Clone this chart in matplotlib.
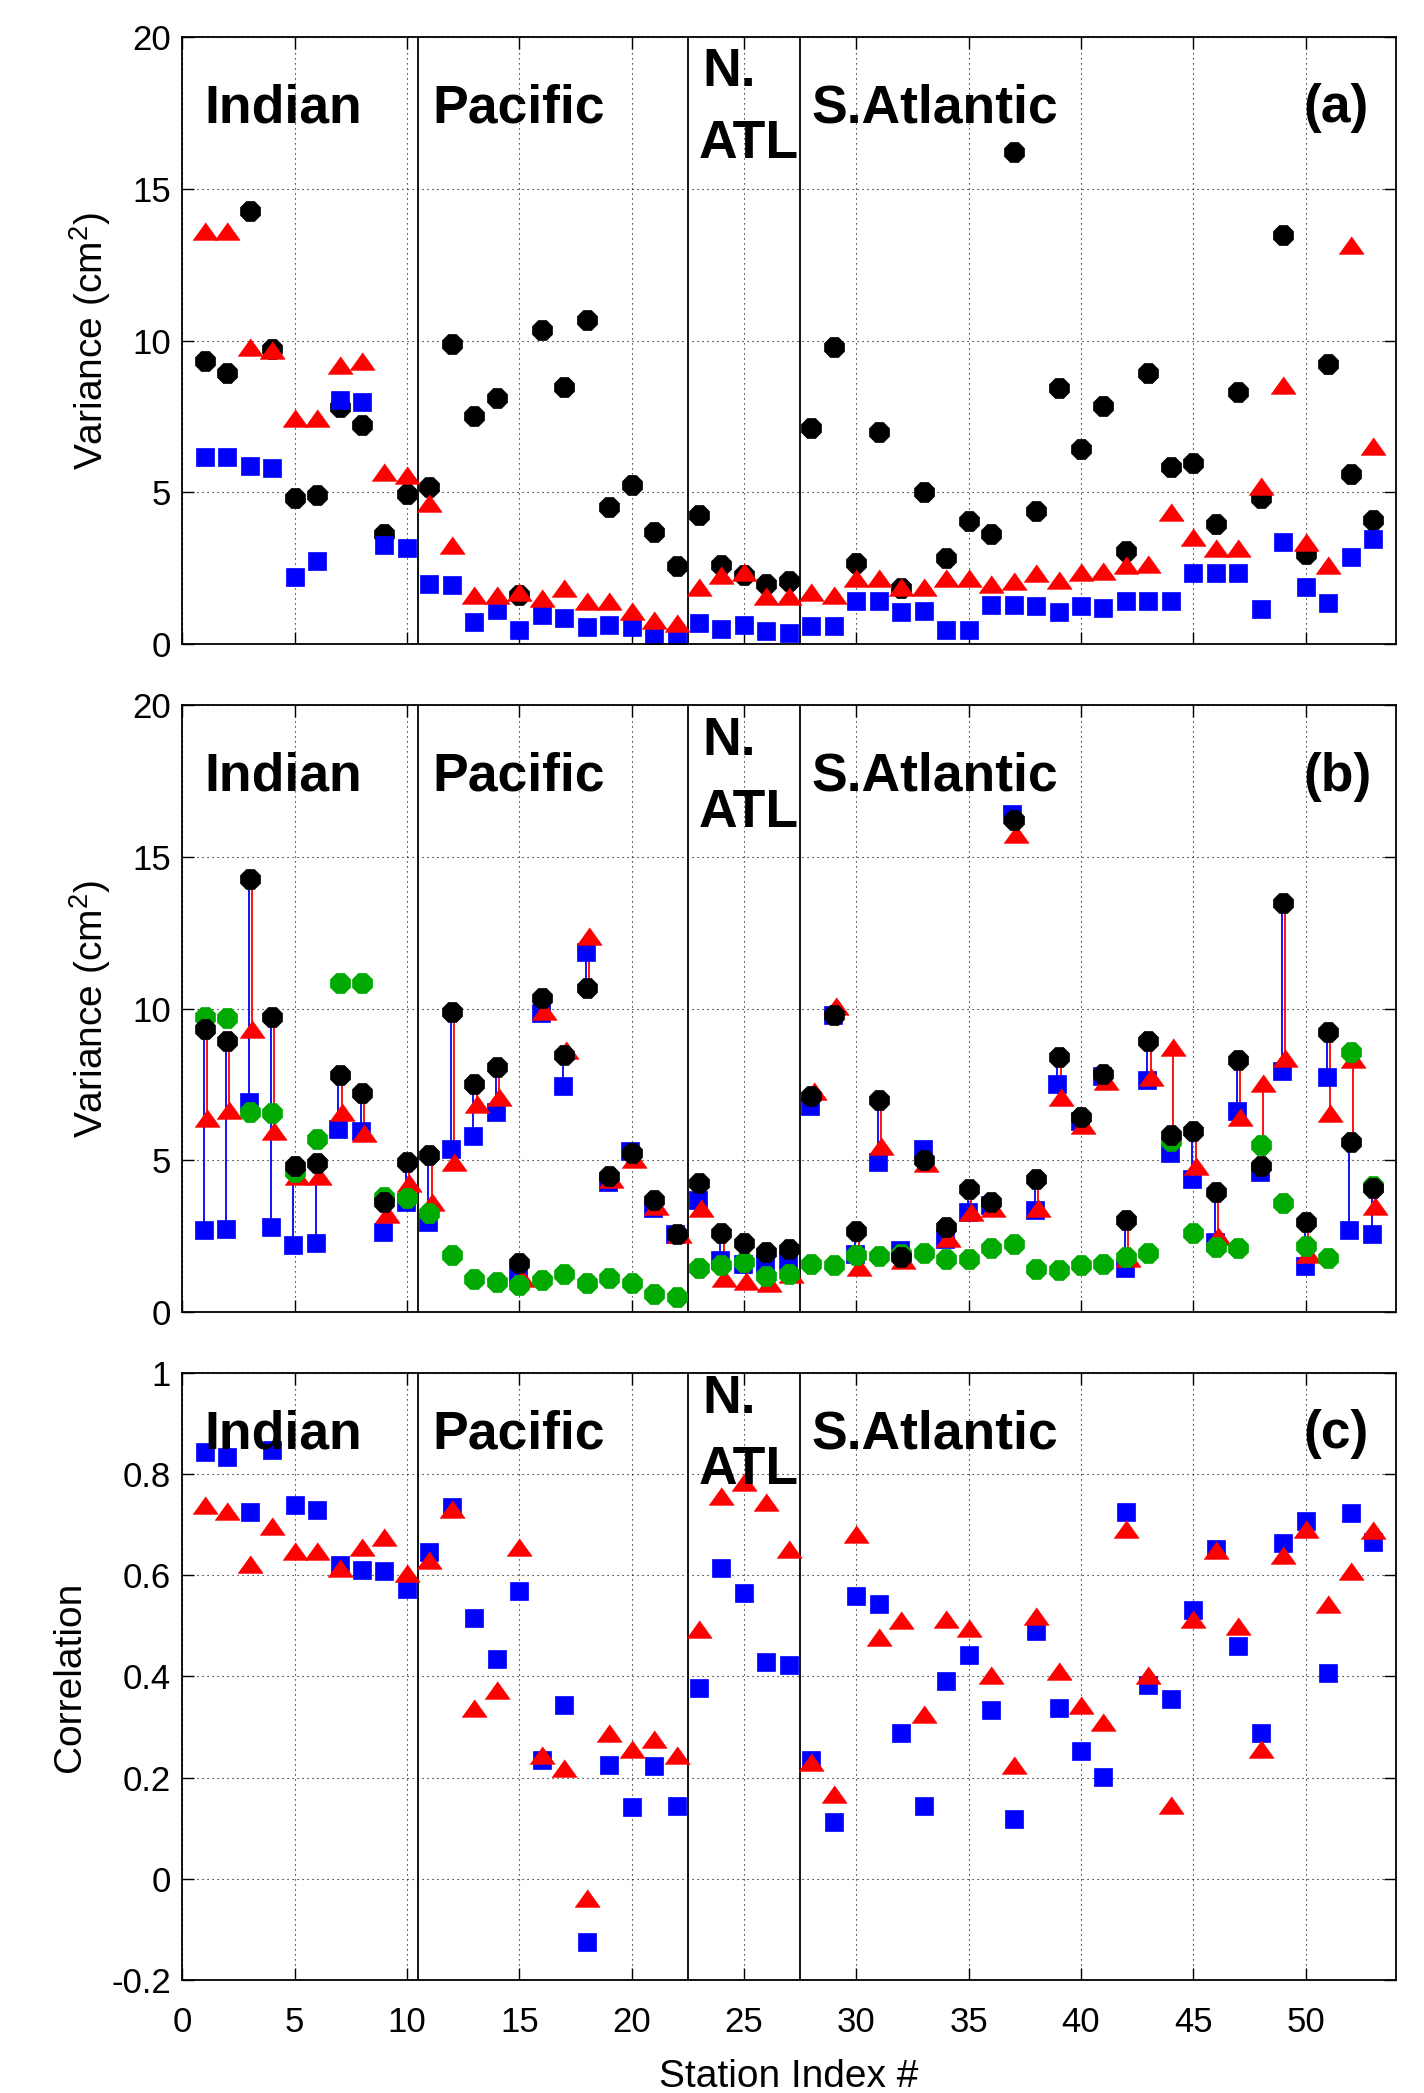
import numpy as np
import matplotlib
matplotlib.use('Agg')
import matplotlib.pyplot as plt
from matplotlib.transforms import blended_transform_factory

plt.rcParams['font.family'] = ['Liberation Sans', 'DejaVu Sans']
plt.rcParams['mathtext.fontset'] = 'custom'
plt.rcParams['mathtext.rm'] = 'Liberation Sans'
plt.rcParams['mathtext.default'] = 'regular'

stations = np.arange(1, 54)

# panel (a) / (b): total variance (black)
var_total = [9.34, 8.94, 14.28, 9.73, 4.80, 4.90, 7.81, 7.23, 3.62, 4.94,
             5.18, 9.90, 7.50, 8.09, 1.63, 10.34, 8.48, 10.68, 4.50, 5.23,
             3.68, 2.56, 4.25, 2.60, 2.29, 1.99, 2.09, 7.13, 9.80, 2.66,
             6.99, 1.83, 5.00, 2.82, 4.05, 3.62, 16.20, 4.37, 8.42, 6.44,
             7.83, 3.05, 8.94, 5.83, 5.96, 3.95, 8.32, 4.81, 13.48, 2.98,
             9.22, 5.60, 4.08]
# panel (a): red triangles, blue squares
var_a_red = [13.6, 13.6, 9.8, 9.7, 7.46, 7.46, 9.18, 9.31, 5.67, 5.56,
             4.64, 3.25, 1.6, 1.6, 1.7, 1.5, 1.85, 1.43, 1.43, 1.1,
             0.79, 0.7, 1.89, 2.29, 2.38, 1.59, 1.59, 1.7, 1.63, 2.16,
             2.16, 1.89, 1.89, 2.16, 2.16, 1.99, 2.07, 2.33, 2.12, 2.36,
             2.42, 2.62, 2.65, 4.34, 3.52, 3.15, 3.15, 5.2, 8.52, 3.35,
             2.62, 13.15, 6.53]
var_a_blue = [6.17, 6.17, 5.87, 5.8, 2.22, 2.75, 8.05, 7.99, 3.25, 3.18,
              1.99, 1.96, 0.73, 1.13, 0.45, 0.97, 0.86, 0.57, 0.64, 0.57,
              0.3, 0.2, 0.7, 0.5, 0.64, 0.44, 0.37, 0.6, 0.6, 1.43,
              1.43, 1.07, 1.1, 0.46, 0.46, 1.3, 1.3, 1.26, 1.06, 1.26,
              1.2, 1.43, 1.43, 1.43, 2.33, 2.33, 2.33, 1.17, 3.35, 1.89,
              1.36, 2.86, 3.46]
# panel (b)
var_b_blue = [2.72, 2.75, 6.91, 2.82, 2.22, 2.28, 6.03, 5.96, 2.65, 3.64,
              2.98, 5.36, 5.8, 6.6, 1.15, 9.84, 7.46, 11.88, 4.3, 5.3,
              3.44, 2.58, 3.7, 1.72, 1.59, 1.59, 1.72, 6.79, 9.8, 1.92,
              4.94, 2.03, 5.39, 2.41, 3.31, 3.54, 16.42, 3.38, 7.51, 6.29,
              7.79, 1.46, 7.64, 5.23, 4.37, 2.32, 6.62, 4.6, 7.95, 1.52,
              7.75, 2.72, 2.58]
var_b_red = [6.38, 6.65, 9.34, 5.96, 4.5, 4.5, 6.58, 5.89, 3.22, 4.24,
             3.64, 4.94, 6.85, 7.09, 1.13, 9.93, 8.65, 12.38, 4.37, 5.03,
             3.48, 2.58, 3.44, 1.13, 1.02, 0.95, 1.26, 7.28, 10.1, 1.5,
             5.47, 1.72, 4.9, 2.45, 3.31, 3.44, 15.76, 3.44, 7.09, 6.16,
             7.62, 1.79, 7.75, 8.74, 4.83, 2.52, 6.42, 7.55, 8.37, 1.92,
             6.56, 8.34, 3.48]
var_b_green = [9.73, 9.7, 6.6, 6.56, 4.63, 5.7, 10.86, 10.86, 3.8, 3.77,
               3.25, 1.89, 1.1, 0.99, 0.89, 1.06, 1.26, 0.97, 1.13, 0.97,
               0.6, 0.49, 1.46, 1.55, 1.66, 1.19, 1.26, 1.59, 1.55, 1.89,
               1.85, 1.92, 1.95, 1.76, 1.76, 2.1, 2.25, 1.42, 1.39, 1.55,
               1.59, 1.81, 1.96, 5.63, 2.61, 2.16, 2.12, 5.52, 3.58, 2.19,
               1.79, 8.57, 4.17]
# panel (c): correlation
corr_blue = [0.843, 0.833, 0.726, 0.848, 0.74, 0.73, 0.621, 0.611, 0.609, 0.573,
             0.647, 0.735, 0.515, 0.435, 0.569, 0.234, 0.344, -0.125, 0.226, 0.141,
             0.224, 0.144, 0.377, 0.615, 0.566, 0.429, 0.423, 0.235, 0.113, 0.56,
             0.544, 0.289, 0.144, 0.391, 0.442, 0.333, 0.119, 0.49, 0.337, 0.252,
             0.202, 0.726, 0.383, 0.355, 0.531, 0.652, 0.461, 0.289, 0.663, 0.708,
             0.406, 0.723, 0.665]
corr_red = [0.74, 0.727, 0.623, 0.698, 0.649, 0.649, 0.615, 0.656, 0.676, 0.605,
            0.631, 0.732, 0.337, 0.373, 0.656, 0.244, 0.22, -0.038, 0.289, 0.256,
            0.277, 0.244, 0.494, 0.756, 0.785, 0.744, 0.653, 0.231, 0.168, 0.681,
            0.478, 0.512, 0.325, 0.514, 0.496, 0.402, 0.226, 0.519, 0.411, 0.343,
            0.31, 0.692, 0.402, 0.145, 0.514, 0.651, 0.5, 0.256, 0.64, 0.692,
            0.543, 0.609, 0.69]

region_bounds = [10.5, 22.5, 27.5]

TRI = [(-1, -0.7), (1, -0.7), (0, 0.7)]
GREEN = '#00aa00'
circ_kw = dict(marker='8', markersize=16, linestyle='none', markeredgewidth=0.5)
sq_kw = dict(marker='s', markersize=12.5, linestyle='none', markeredgewidth=0.5,
             color='b', markeredgecolor='b')
tri_kw = dict(marker=TRI, markersize=18, linestyle='none', markeredgewidth=0.5,
              color='r', markeredgecolor='r')


def style_axes(ax, ylim, yticks, yticklabels, show_x):
    ax.set_xlim(0, 54)
    ax.set_ylim(*ylim)
    ax.set_xticks(np.arange(0, 55, 5))
    ax.set_yticks(yticks)
    ax.set_yticklabels(yticklabels)
    ax.grid(True, color='k', linestyle=(0, (1, 3.5)), linewidth=0.8)
    ax.set_axisbelow(True)
    ax.tick_params(direction='in', length=8.5, width=1, top=True, right=True,
                   labelsize=25, colors='k')
    ax.tick_params(axis='y', pad=8)
    ax.tick_params(axis='x', pad=19)
    if not show_x:
        ax.set_xticklabels([])
    for sp in ax.spines.values():
        sp.set_linewidth(1.3)
    for xb in region_bounds:
        ax.axvline(xb, color='k', linewidth=1.3, zorder=1.5)


def region_labels(ax, tag, base, n_base, atl_base):
    tr = blended_transform_factory(ax.transData, ax.transAxes)
    kw = dict(fontsize=38.5, fontweight='bold', transform=tr, va='baseline',
              ha='left', zorder=10)
    ax.text(1.0, base, 'Indian', **kw)
    ax.text(11.15, base, 'Pacific', **kw)
    ax.text(23.15, n_base, 'N.', **kw)
    ax.text(23.0, atl_base, 'ATL', **kw)
    ax.text(28.0, base, 'S.Atlantic', **kw)
    ax.text(49.9, base, tag, **kw)


fig = plt.figure(figsize=(14.24, 20.93), dpi=100)
L, W, H = 0.128, 0.852, 0.290

# (a)
ax1 = fig.add_axes([L, 0.6923, W, H])
ax1.plot(stations, var_total, color='k', markeredgecolor='k', **circ_kw)
ax1.plot(stations, var_a_blue, **sq_kw)
ax1.plot(stations, var_a_red, **tri_kw)
style_axes(ax1, (0, 20), [0, 5, 10, 15, 20], ['0', '5', '10', '15', '20'], False)
ax1.set_ylabel('Variance (cm$^{2}$)', fontsize=28)
ax1.yaxis.set_label_coords(-0.057, 0.5)
region_labels(ax1, '(a)', 0.86, 0.919, 0.801)

# (b)
ax2 = fig.add_axes([L, 0.3731, W, H])
ax2.vlines(stations - 0.05, var_total, var_b_blue, colors='b', linewidth=1.3, zorder=2)
ax2.vlines(stations + 0.1, var_total, var_b_red, colors='r', linewidth=1.3, zorder=2)
ax2.plot(stations - 0.05, var_b_blue, zorder=3, **sq_kw)
ax2.plot(stations + 0.1, var_b_red, zorder=3, **tri_kw)
ax2.plot(stations, var_b_green, color=GREEN, markeredgecolor=GREEN, zorder=4, **circ_kw)
ax2.plot(stations, var_total, color='k', markeredgecolor='k', zorder=5, **circ_kw)
style_axes(ax2, (0, 20), [0, 5, 10, 15, 20], ['0', '5', '10', '15', '20'], False)
ax2.set_ylabel('Variance (cm$^{2}$)', fontsize=28)
ax2.yaxis.set_label_coords(-0.057, 0.5)
region_labels(ax2, '(b)', 0.859, 0.918, 0.80)

# (c)
ax3 = fig.add_axes([L, 0.054, W, H])
ax3.plot(stations, corr_blue, **sq_kw)
ax3.plot(stations, corr_red, **tri_kw)
cticks = [-0.2, 0, 0.2, 0.4, 0.6, 0.8, 1]
style_axes(ax3, (-0.2, 1), cticks, ['-0.2', '0', '0.2', '0.4', '0.6', '0.8', '1'], True)
ax3.set_ylabel('Correlation', fontsize=28)
ax3.yaxis.set_label_coords(-0.078, 0.5)
ax3.set_xlabel('Station Index #', fontsize=28)
ax3.xaxis.set_label_coords(0.5, -0.13)
region_labels(ax3, '(c)', 0.876, 0.934, 0.817)

fig.savefig('out.png', dpi=100, facecolor='white')
